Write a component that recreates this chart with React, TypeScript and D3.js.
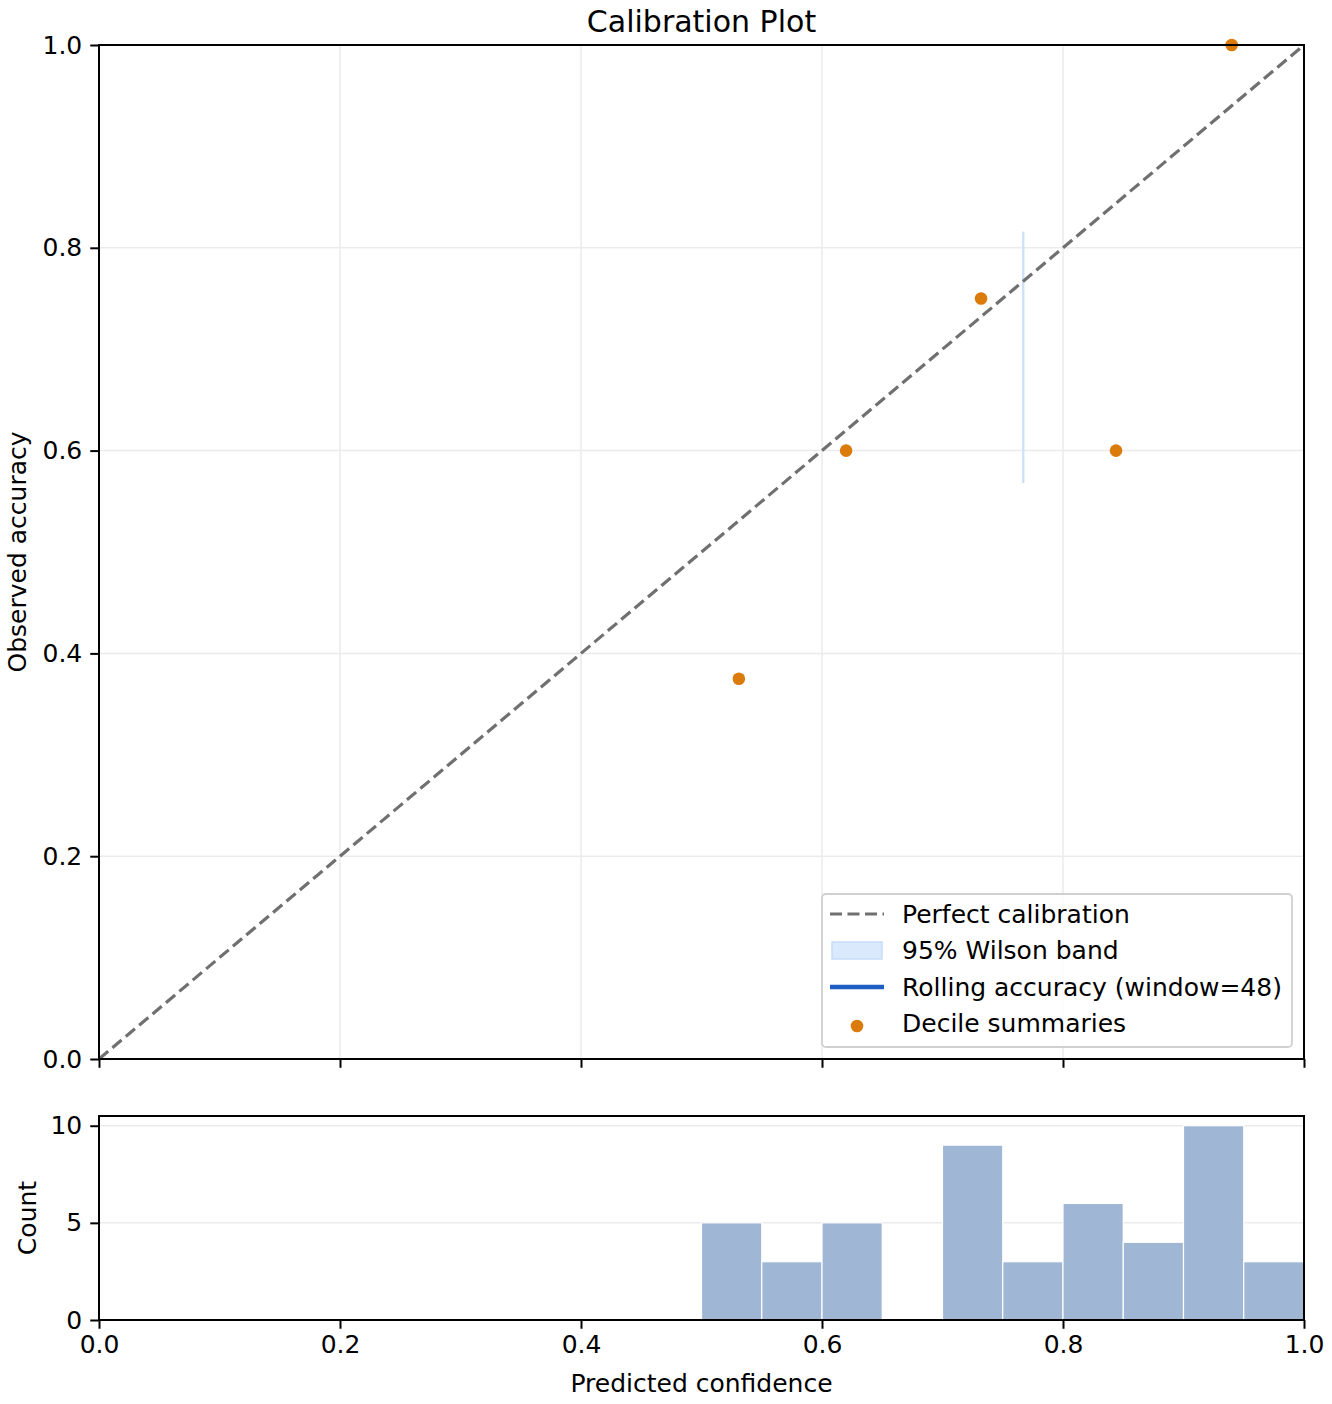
import { useEffect, useRef } from 'react';
import * as d3 from 'd3';

// decile summary points (mean confidence, observed accuracy)
const decileConf = [0.531, 0.62, 0.732, 0.844, 0.94];
const decileAcc = [0.375, 0.6, 0.75, 0.6, 1.0];

// Wilson band (single x, collapses to a vertical sliver)
const bandX = [0.767];
const bandLow = [0.568];
const bandHigh = [0.816];

// histogram bins of predicted confidence
const binStarts = [0.5, 0.55, 0.6, 0.65, 0.7, 0.75, 0.8, 0.85, 0.9, 0.95];
const binCounts = [5, 3, 5, 0, 9, 3, 6, 4, 10, 3];
const binWidth = 0.05;

const xTicks = [0, 0.2, 0.4, 0.6, 0.8, 1.0];
const yTicks = [0, 0.2, 0.4, 0.6, 0.8, 1.0];
const countTicks = [0, 5, 10];

const legendItems = ['Perfect calibration', '95% Wilson band', 'Rolling accuracy (window=48)', 'Decile summaries'];

const FONT = 'DejaVu Sans, sans-serif';
const FS = 25;

export default function App() {
  const svgRef = useRef<SVGSVGElement>(null);

  useEffect(() => {
    if (!svgRef.current) return;
    const svg = d3.select(svgRef.current);
    svg.selectAll('*').remove();

    const left = 99, right = 1304;
    const mainTop = 45, mainBottom = 1059;
    const histTop = 1116, histBottom = 1320;

    const x = d3.scaleLinear().domain([0, 1]).range([left, right]);
    const y = d3.scaleLinear().domain([0, 1]).range([mainBottom, mainTop]);
    const yc = d3.scaleLinear().domain([0, 10.5]).range([histBottom, histTop]);

    svg.append('rect').attr('width', 1332).attr('height', 1404).attr('fill', '#fff');

    const styleAxis = (g: d3.Selection<SVGGElement, unknown, null, undefined>) => {
      g.select('.domain').remove();
      g.selectAll('text').attr('font-family', FONT).attr('font-size', FS).attr('fill', '#000');
      g.selectAll('line').attr('stroke-width', 2);
    };

    // ---- main panel ----
    const grid = svg.append('g').attr('stroke', '#ebebeb').attr('stroke-width', 1.5);
    xTicks.forEach(t => grid.append('line').attr('x1', x(t)).attr('x2', x(t)).attr('y1', mainTop).attr('y2', mainBottom));
    yTicks.forEach(t => grid.append('line').attr('x1', left).attr('x2', right).attr('y1', y(t)).attr('y2', y(t)));

    // Wilson band
    bandX.forEach((bx, i) => {
      svg.append('rect')
        .attr('x', x(bx) - 1.2)
        .attr('width', 2.4)
        .attr('y', y(bandHigh[i]))
        .attr('height', y(bandLow[i]) - y(bandHigh[i]))
        .attr('fill', '#cfe1fb');
    });

    // perfect calibration
    svg.append('line')
      .attr('x1', x(0)).attr('y1', y(0)).attr('x2', x(1)).attr('y2', y(1))
      .attr('stroke', '#707070').attr('stroke-width', 3.2)
      .attr('stroke-dasharray', '12,5.5');

    // decile points
    svg.append('g').selectAll('circle')
      .data(decileConf)
      .enter()
      .append('circle')
      .attr('cx', d => x(d))
      .attr('cy', (_, i) => y(decileAcc[i]))
      .attr('r', 6.3)
      .attr('fill', '#db7b0b');

    // frame
    svg.append('rect')
      .attr('x', left).attr('y', mainTop).attr('width', right - left).attr('height', mainBottom - mainTop)
      .attr('fill', 'none').attr('stroke', '#000').attr('stroke-width', 2);

    svg.append('g')
      .attr('transform', `translate(${left},0)`)
      .call(d3.axisLeft(y).tickValues(yTicks).tickFormat(d3.format('.1f')).tickSize(8.75).tickPadding(8))
      .call(styleAxis);

    svg.append('g')
      .attr('transform', `translate(0,${mainBottom})`)
      .call(d3.axisBottom(x).tickValues(xTicks).tickFormat(() => '').tickSize(8.75))
      .call(styleAxis);

    // legend
    const lg = svg.append('g').attr('transform', 'translate(822,894)');
    lg.append('rect')
      .attr('width', 470).attr('height', 153).attr('rx', 4)
      .attr('fill', 'rgba(255,255,255,0.8)').attr('stroke', '#d0d0d0').attr('stroke-width', 1.8);
    const rowY = [20, 56, 93, 129];
    lg.append('line').attr('x1', 8).attr('x2', 62).attr('y1', rowY[0]).attr('y2', rowY[0])
      .attr('stroke', '#707070').attr('stroke-width', 3.2).attr('stroke-dasharray', '12,5.5');
    lg.append('rect').attr('x', 10).attr('y', rowY[1] - 8).attr('width', 50).attr('height', 17)
      .attr('fill', '#dbe9fd').attr('stroke', '#c6dcfa').attr('stroke-width', 1.5);
    lg.append('line').attr('x1', 8).attr('x2', 62).attr('y1', rowY[2]).attr('y2', rowY[2])
      .attr('stroke', '#1f5fc4').attr('stroke-width', 4.5);
    lg.append('circle').attr('cx', 35).attr('cy', rowY[3] + 3).attr('r', 6.3).attr('fill', '#db7b0b');
    legendItems.forEach((t, i) => {
      lg.append('text').attr('x', 80).attr('y', rowY[i]).attr('dy', '0.35em')
        .attr('font-family', FONT).attr('font-size', FS).text(t);
    });

    // title + y label
    svg.append('text').attr('x', (left + right) / 2).attr('y', 21).attr('dy', '0.35em').attr('text-anchor', 'middle')
      .attr('font-family', FONT).attr('font-size', 30).text('Calibration Plot');
    svg.append('text')
      .attr('transform', `translate(17,${(mainTop + mainBottom) / 2}) rotate(-90)`)
      .attr('dy', '0.35em')
      .attr('text-anchor', 'middle').attr('font-family', FONT).attr('font-size', FS)
      .text('Observed accuracy');

    // ---- histogram panel ----
    const hgrid = svg.append('g').attr('stroke', '#ebebeb').attr('stroke-width', 1.5);
    countTicks.forEach(t => hgrid.append('line').attr('x1', left).attr('x2', right).attr('y1', yc(t)).attr('y2', yc(t)));

    svg.append('g').selectAll('rect')
      .data(binStarts)
      .enter()
      .append('rect')
      .attr('x', d => x(d))
      .attr('width', d => x(d + binWidth) - x(d))
      .attr('y', (_, i) => yc(binCounts[i]))
      .attr('height', (_, i) => yc(0) - yc(binCounts[i]))
      .attr('fill', '#9fb6d5')
      .attr('stroke', '#fff')
      .attr('stroke-width', 1.2);

    svg.append('rect')
      .attr('x', left).attr('y', histTop).attr('width', right - left).attr('height', histBottom - histTop)
      .attr('fill', 'none').attr('stroke', '#000').attr('stroke-width', 2);

    svg.append('g')
      .attr('transform', `translate(${left},0)`)
      .call(d3.axisLeft(yc).tickValues(countTicks).tickFormat(d3.format('d')).tickSize(8.75).tickPadding(8))
      .call(styleAxis);

    svg.append('g')
      .attr('transform', `translate(0,${histBottom})`)
      .call(d3.axisBottom(x).tickValues(xTicks).tickFormat(d3.format('.1f')).tickSize(8.75).tickPadding(6))
      .call(styleAxis);

    svg.append('text').attr('x', (left + right) / 2).attr('y', 1383).attr('dy', '0.35em').attr('text-anchor', 'middle')
      .attr('font-family', FONT).attr('font-size', FS).text('Predicted confidence');
    svg.append('text')
      .attr('transform', `translate(27,${(histTop + histBottom) / 2}) rotate(-90)`)
      .attr('dy', '0.35em')
      .attr('text-anchor', 'middle').attr('font-family', FONT).attr('font-size', FS)
      .text('Count');
  }, []);

  return (
    <svg ref={svgRef} width={1332} height={1404}
      style={{ position: 'absolute', left: 0, top: 0, display: 'block' }} />
  );
}
